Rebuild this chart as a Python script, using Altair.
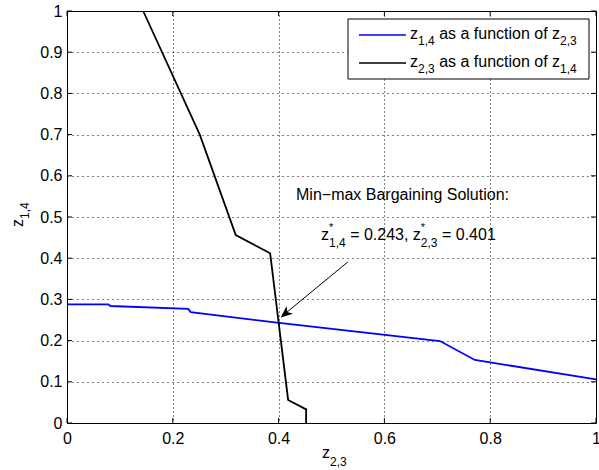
import altair as alt
import pandas as pd

# ---------------- data ----------------
z23_blue = [0.0, 0.078, 0.082, 0.229, 0.234, 0.401, 0.705, 0.771, 1.0]
z14_blue = [0.288, 0.288, 0.284, 0.277, 0.269, 0.243, 0.199, 0.153, 0.106]
z23_black = [0.144, 0.251, 0.319, 0.384, 0.418, 0.452, 0.452]
z14_black = [1.0, 0.700, 0.456, 0.412, 0.056, 0.033, 0.0]
x_ticks = [0.0, 0.2, 0.4, 0.6, 0.8, 1.0]
y_ticks = [0.0, 0.1, 0.2, 0.3, 0.4, 0.5, 0.6, 0.7, 0.8, 0.9, 1.0]
sol_z14 = "0.243"
sol_z23 = "0.401"

FONT = "Liberation Sans"
W, H = 529, 412
X0, Y0 = 67, 11  # plot origin on the canvas

rows = []
for i, (a, b) in enumerate(zip(z23_blue, z14_blue)):
    rows.append({"x": a, "y": b, "s": "blue", "i": i})
for i, (a, b) in enumerate(zip(z23_black, z14_black)):
    rows.append({"x": a, "y": b, "s": "black", "i": i})
df = pd.DataFrame(rows)
one = pd.DataFrame({"a": [0]})

xs = alt.Scale(domain=[0, 1], nice=False, zero=False)
ys = alt.Scale(domain=[0, 1], nice=False, zero=False)

base = alt.Chart(df).mark_line(strokeWidth=1.8).encode(
    x=alt.X("x:Q", scale=xs, axis=alt.Axis(values=x_ticks, title=None, grid=True,
            ticks=False, domain=False, labelFontSize=16, labelFont=FONT,
            labelColor="black", labelPadding=7, labelFlush=False,
            gridColor="black", gridDash=[1, 3], gridOpacity=1, gridWidth=1,
            format=".1~f")),
    y=alt.Y("y:Q", scale=ys, axis=alt.Axis(values=y_ticks, title=None, grid=True,
            ticks=False, domain=False, labelFontSize=16, labelFont=FONT,
            labelColor="black", labelPadding=5, labelFlush=False,
            gridColor="black", gridDash=[1, 4], gridOpacity=1, gridWidth=1,
            format=".1~f")),
    color=alt.Color("s:N", scale=alt.Scale(domain=["blue", "black"],
                    range=["#0000ff", "#000000"]), legend=None),
    order="i:Q",
    detail="s:N",
)

# inward ticks
tx = pd.DataFrame({"t": x_ticks})
ty = pd.DataFrame({"t": y_ticks})
tick_layers = [
    alt.Chart(tx).mark_rule(color="black", strokeWidth=1).encode(
        x=alt.X("t:Q", scale=xs), y=alt.value(H), y2=alt.value(H - 5)),
    alt.Chart(tx).mark_rule(color="black", strokeWidth=1).encode(
        x=alt.X("t:Q", scale=xs), y=alt.value(0), y2=alt.value(5)),
    alt.Chart(ty).mark_rule(color="black", strokeWidth=1).encode(
        y=alt.Y("t:Q", scale=ys), x=alt.value(0), x2=alt.value(5)),
    alt.Chart(ty).mark_rule(color="black", strokeWidth=1).encode(
        y=alt.Y("t:Q", scale=ys), x=alt.value(W), x2=alt.value(W - 5)),
]

# ---------------- rich text helper (Arial metrics) ----------------
AW = {" ": 278, ",": 278, ".": 278, "=": 584, "*": 389, "z": 500, "a": 556,
      "s": 500, "f": 278, "u": 556, "n": 556, "c": 500, "t": 278, "i": 222,
      "o": 556}
for d in "0123456789":
    AW[d] = 556


def tw(s, size):
    return sum(AW.get(c, 556) for c in s) * size / 1000.0


def rich(pieces, x, y, vertical=False):
    layers = []
    cur = 0.0
    for p in pieces:
        text, size, shift = p[0], p[1], p[2]
        adv = p[3] if len(p) > 3 else True
        lead = len(text) - len(text.lstrip(" "))
        off = cur + tw(" " * lead, size)
        if vertical:
            px, py, ang = x + shift, y - off, 270
        else:
            px, py, ang = x + off, y + shift, 0
        layers.append(
            alt.Chart(one).mark_text(text=text.strip(" "), fontSize=size, font=FONT,
                                     align="left", baseline="alphabetic",
                                     angle=ang, color="black").encode(
                x=alt.value(px - X0), y=alt.value(py - Y0)))
        if adv:
            cur += tw(text, size)
    return layers


S = 12  # subscript size
texts = []
# axis titles
texts += rich([("z", 16, 0), ("2,3", S, 8)], 322, 458)
texts += rich([("z", 16, 0), ("1,4", S, 6)], 23, 227, vertical=True)
# annotation
texts += [alt.Chart(one).mark_text(text="Min\u2212max Bargaining Solution:", fontSize=16,
                                   font=FONT, align="left", baseline="alphabetic",
                                   color="black").encode(
    x=alt.value(296 - X0), y=alt.value(200 - Y0))]
texts += rich([("z", 16, 0), ("*", 11, -9, False), ("1,4", S, 7),
               (" = " + sol_z14 + ", ", 16, 0), ("z", 16, 0), ("*", 11, -9, False),
               ("2,3", S, 7), (" = " + sol_z23, 16, 0)], 321, 240)

# arrow
arrow = [
    alt.Chart(one).mark_rule(color="black", strokeWidth=1).encode(
        x=alt.datum(0.531), y=alt.datum(0.391), x2=alt.datum(0.409), y2=alt.datum(0.262)),
    alt.Chart(one).mark_point(shape="M0,0 L-0.42,1 L0,0.72 L0.42,1 Z", filled=True,
                              size=560, angle=230, color="black", opacity=1,
                              strokeWidth=0).encode(
        x=alt.datum(0.404), y=alt.datum(0.256)),
]

# legend
LX1, LX2, LY1, LY2 = 348, 589, 19, 79
legend = [
    alt.Chart(one).mark_rect(fill="white", stroke="black", strokeWidth=1).encode(
        x=alt.value(LX1 - X0), x2=alt.value(LX2 - X0),
        y=alt.value(LY1 - Y0), y2=alt.value(LY2 - Y0)),
    alt.Chart(one).mark_rule(color="#0000ff", strokeWidth=1.5).encode(
        x=alt.value(359 - X0), x2=alt.value(406 - X0), y=alt.value(35 - Y0)),
    alt.Chart(one).mark_rule(color="black", strokeWidth=1.5).encode(
        x=alt.value(359 - X0), x2=alt.value(406 - X0), y=alt.value(63 - Y0)),
]
legend += rich([("z", 16, 0), ("1,4", S, 6), (" as a function of ", 16, 0),
                ("z", 16, 0), ("2,3", S, 6)], 410, 39)
legend += rich([("z", 16, 0), ("2,3", S, 6), (" as a function of ", 16, 0),
                ("z", 16, 0), ("1,4", S, 6)], 410, 67)

chart = alt.layer(base, *tick_layers, *arrow, *texts, *legend).properties(
    width=W, height=H,
    autosize=alt.AutoSizeParams(type="none"),
    padding={"left": X0, "top": Y0, "right": 599 - X0 - W, "bottom": 470 - Y0 - H},
    background="white",
).configure_view(stroke="black", strokeWidth=1)

chart.save("out.html", embed_options={"renderer": "svg", "actions": False})
